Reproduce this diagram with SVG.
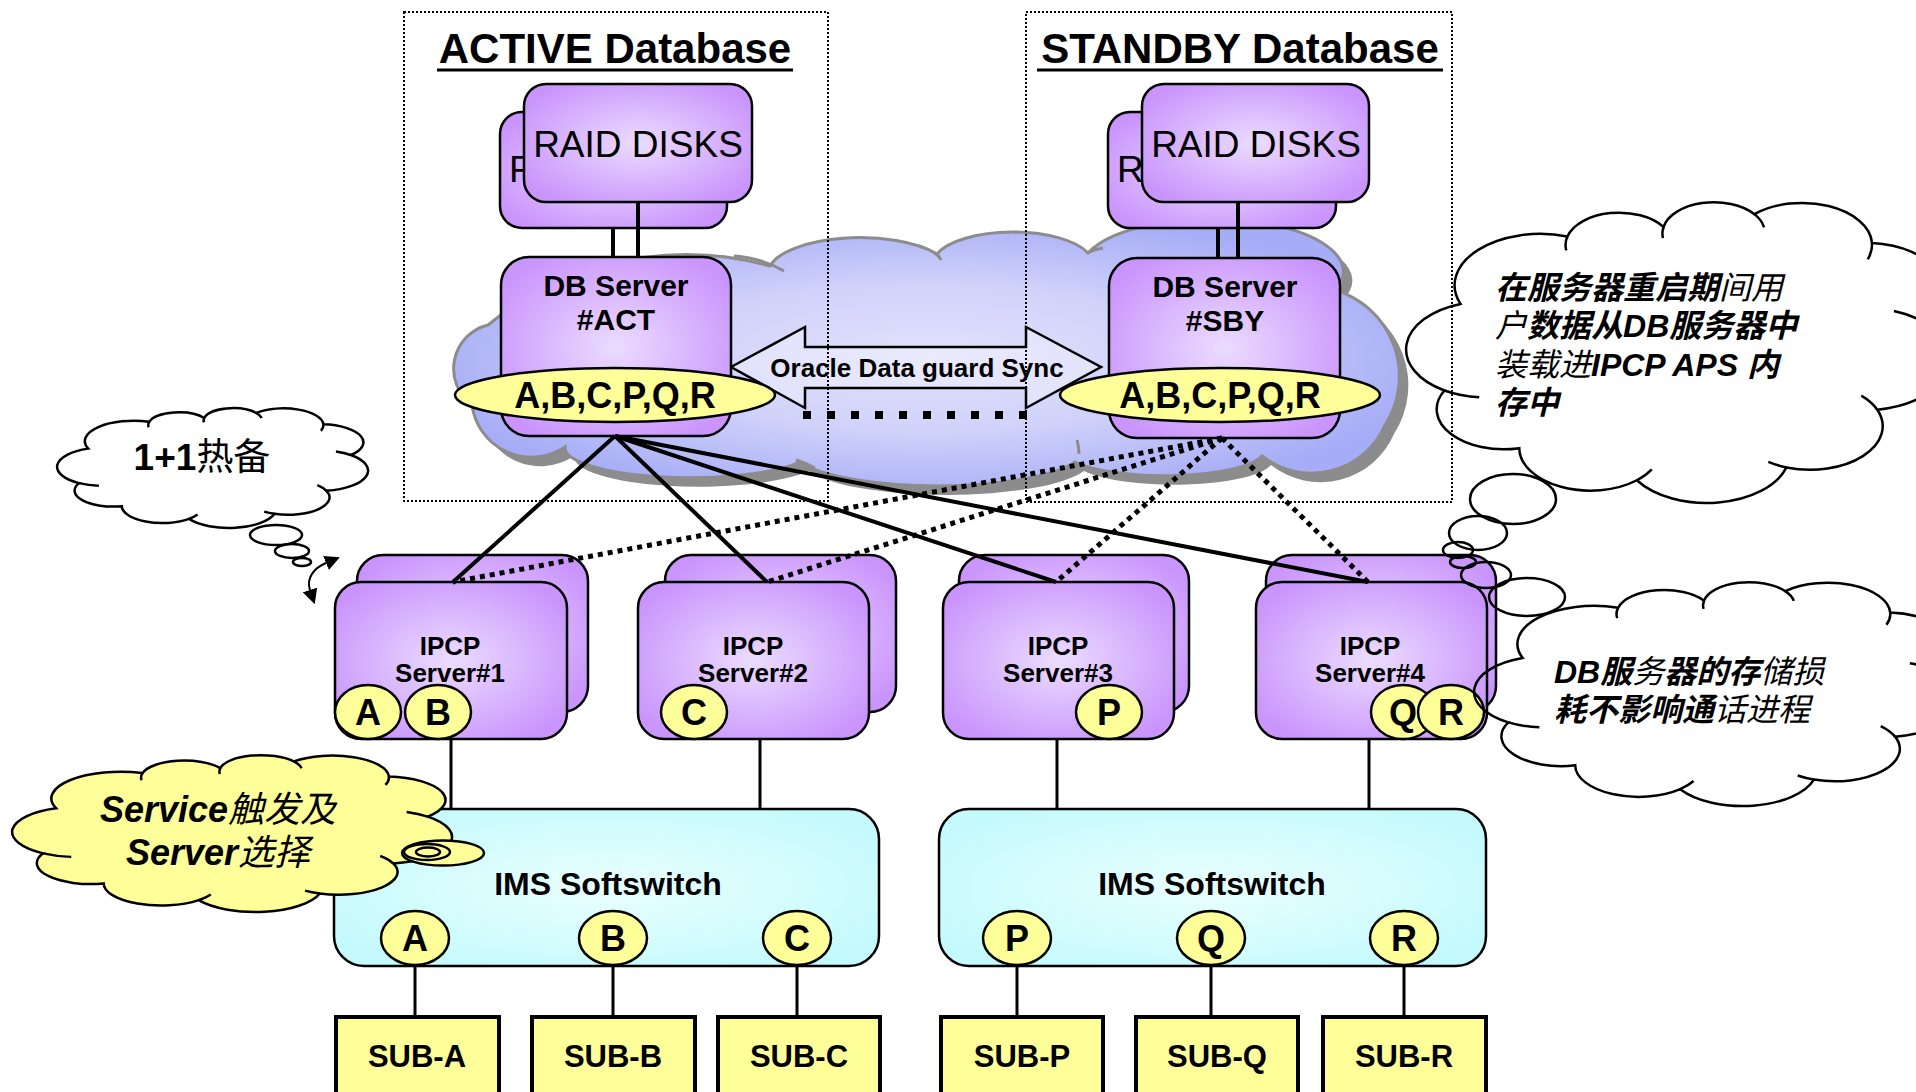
<svg xmlns="http://www.w3.org/2000/svg" xmlns:xlink="http://www.w3.org/1999/xlink" width="1916" height="1092" viewBox="0 0 1916 1092">
<defs>
<style>
.t{font-family:"Liberation Sans","Noto Sans CJK SC",sans-serif;font-weight:bold;fill:#000;text-anchor:middle}
.r{font-family:"Liberation Sans",sans-serif;font-weight:normal;fill:#000}
.it{font-family:"Liberation Sans","Noto Sans CJK SC",sans-serif;font-weight:bold;font-style:italic;fill:#000}
.n{font-weight:normal}
.pb{fill:url(#gP);stroke:#000;stroke-width:2.5}
.yl{fill:#ffff99;stroke:#000;stroke-width:2.5}
.cy{fill:url(#gC);stroke:#000;stroke-width:2.5}
.sub{fill:#ffff99;stroke:#000;stroke-width:4}
.cont{fill:none;stroke:#000;stroke-width:2;stroke-dasharray:2 2}
.ln{stroke:#000;stroke-width:4;fill:none}
.thin{stroke:#000;stroke-width:3;fill:none}
.dl{stroke:#000;stroke-width:5;stroke-dasharray:5 5;fill:none}
.cl{stroke:#000;stroke-width:2.5}
.bub{fill:none;stroke:#000;stroke-width:2.5}
</style>
<radialGradient id="gP" cx="0.5" cy="0.5" r="0.6">
<stop offset="0" stop-color="#ebdcff"/>
<stop offset="1" stop-color="#c994fc"/>
</radialGradient>
<radialGradient id="gC" cx="0.5" cy="0.5" r="0.6">
<stop offset="0" stop-color="#eaffff"/>
<stop offset="1" stop-color="#c4fafc"/>
</radialGradient>
<radialGradient id="gB" cx="0.5" cy="0.52" r="0.55">
<stop offset="0" stop-color="#e2e2fc"/>
<stop offset="0.5" stop-color="#d0d2fa"/>
<stop offset="1" stop-color="#a6acf6"/>
</radialGradient>
<marker id="ah" viewBox="0 0 10 10" refX="0" refY="5" markerUnits="userSpaceOnUse" markerWidth="15" markerHeight="15" orient="auto-start-reverse">
<path d="M0,0 L10,5 L0,10 z" fill="#000"/>
</marker>
<path id="cloudP" vector-effect="non-scaling-stroke" d="M90,350 A160,160 0 0 1 290,140 A100,100 0 0 1 470,110 A96,96 0 0 1 640,70 A131,131 0 0 1 860,160 A141,141 0 0 1 950,400 A160,160 0 0 1 870,680 A136,136 0 0 1 700,860 A156,156 0 0 1 420,900 A133,133 0 0 1 200,800 A125,125 0 0 1 60,620 A150,150 0 0 1 90,350 Z"/>
<path id="cloudH" vector-effect="non-scaling-stroke" fill="none" d="M60,620 A150,150 0 0 0 125,641 M640,70 A96,96 0 0 1 658,111 M860,160 A131,131 0 0 1 852,211 M950,400 A160,160 0 0 0 901,372 M870,680 A136,136 0 0 0 840,636 M700,860 A136,136 0 0 1 666,843 M420,900 A133,133 0 0 0 448,866 M290,140 A100,100 0 0 0 288,183 M470,110 A96,96 0 0 0 469,145"/>
<path id="dbCloud" d="M488,325 A314,314 0 0 1 770,266 A92,36 0 0 1 937,254 A80,32 0 0 1 1088,253 A125,50 0 0 1 1335,290 A90,90 0 0 1 1385,425 A80,80 0 0 1 1262,456 A100,25 0 0 1 1075,462 A145,35 0 0 1 800,462 A125,30 0 0 1 565,447 A60,60 0 0 1 472,405 A45,45 0 0 1 488,325 Z"/>
</defs>

<rect x="0" y="0" width="1916" height="1092" fill="#fff"/>

<g id="db-cloud">
<use xlink:href="#dbCloud" href="#dbCloud" transform="translate(9,9)" fill="#8c8c8c"/>
<use xlink:href="#dbCloud" href="#dbCloud" fill="url(#gB)" stroke="#8c8c8c" stroke-width="3"/>
<path d="M734,256 Q762,258 784,271 M934,253 Q939,255 941,260 M1087,253 Q1095,249 1103,248 M796,460 Q806,463 815,468 M1077,440 Q1079,447 1079,454" fill="none" stroke="#8c8c8c" stroke-width="3"/>
</g>

<g id="sync-arrow">
<path d="M731,367 L805,327 L805,347 L1026,347 L1026,327 L1101,367 L1026,408 L1026,388 L805,388 L805,408 Z" fill="#ffffff" fill-opacity="0.3" stroke="#000" stroke-width="2.5"/>
<text class="t" x="917" y="377" font-size="26">Oracle Data guard Sync</text>
<line x1="803" y1="415" x2="1027" y2="415" stroke="#000" stroke-width="8" stroke-dasharray="8 16"/>
</g>

<g id="active-db">
<rect class="cont" x="404" y="12" width="424" height="489"/>
<text class="t" x="615" y="63" font-size="42">ACTIVE Database</text>
<line x1="437" y1="70" x2="793" y2="70" stroke="#000" stroke-width="3"/>
</g>
<g id="standby-db">
<rect class="cont" x="1026" y="12" width="426" height="490"/>
<text class="t" x="1240" y="63" font-size="42">STANDBY Database</text>
<line x1="1037" y1="70" x2="1443" y2="70" stroke="#000" stroke-width="3"/>
</g>

<g id="raid-act">
<rect class="pb" x="500" y="112" width="227" height="116" rx="22"/>
<text class="r" x="509" y="182" font-size="37">R</text>
<rect class="pb" x="524" y="84" width="228" height="118" rx="22"/>
<text class="r" x="638" y="157" font-size="37" text-anchor="middle">RAID DISKS</text>
</g>
<g id="raid-sby">
<rect class="pb" x="1108" y="112" width="228" height="116" rx="22"/>
<text class="r" x="1117" y="182" font-size="37">R</text>
<rect class="pb" x="1142" y="84" width="227" height="118" rx="22"/>
<text class="r" x="1256" y="157" font-size="37" text-anchor="middle">RAID DISKS</text>
</g>

<g id="db-act">
<rect class="pb" x="501" y="257" width="230" height="179" rx="28"/>
<text class="t" font-size="30"><tspan x="616" y="296">DB Server</tspan><tspan x="616" y="330">#ACT</tspan></text>
<ellipse class="yl" cx="615" cy="395" rx="160" ry="27"/>
<text class="t" x="615" y="408" font-size="36">A,B,C,P,Q,R</text>
</g>
<g id="db-sby">
<rect class="pb" x="1109" y="258" width="231" height="180" rx="28"/>
<text class="t" font-size="30"><tspan x="1225" y="297">DB Server</tspan><tspan x="1225" y="331">#SBY</tspan></text>
<ellipse class="yl" cx="1220" cy="395" rx="160" ry="27"/>
<text class="t" x="1220" y="408" font-size="36">A,B,C,P,Q,R</text>
</g>

<g id="ipcp1">
<rect class="pb" x="357" y="555" width="231" height="157" rx="26"/>
<rect class="pb" x="335" y="582" width="232" height="157" rx="26"/>
<text class="t" font-size="26"><tspan x="450" y="655">IPCP</tspan><tspan x="450" y="682">Server#1</tspan></text>
<ellipse class="yl" cx="368" cy="712" rx="33" ry="27"/>
<text class="t" x="368" y="725" font-size="36">A</text>
<ellipse class="yl" cx="438" cy="712" rx="33" ry="27"/>
<text class="t" x="438" y="725" font-size="36">B</text>
</g>
<g id="ipcp2">
<rect class="pb" x="665" y="555" width="231" height="157" rx="26"/>
<rect class="pb" x="638" y="582" width="231" height="157" rx="26"/>
<text class="t" font-size="26"><tspan x="753" y="655">IPCP</tspan><tspan x="753" y="682">Server#2</tspan></text>
<ellipse class="yl" cx="694" cy="712" rx="33" ry="27"/>
<text class="t" x="694" y="725" font-size="36">C</text>
</g>
<g id="ipcp3">
<rect class="pb" x="959" y="555" width="230" height="157" rx="26"/>
<rect class="pb" x="943" y="582" width="231" height="157" rx="26"/>
<text class="t" font-size="26"><tspan x="1058" y="655">IPCP</tspan><tspan x="1058" y="682">Server#3</tspan></text>
<ellipse class="yl" cx="1109" cy="712" rx="33" ry="27"/>
<text class="t" x="1109" y="725" font-size="36">P</text>
</g>
<g id="ipcp4">
<rect class="pb" x="1266" y="555" width="230" height="157" rx="26"/>
<rect class="pb" x="1256" y="582" width="231" height="157" rx="26"/>
<text class="t" font-size="26"><tspan x="1370" y="655">IPCP</tspan><tspan x="1370" y="682">Server#4</tspan></text>
<ellipse class="yl" cx="1403" cy="712" rx="32" ry="27"/>
<text class="t" x="1403" y="725" font-size="36">Q</text>
<ellipse class="yl" cx="1451" cy="712" rx="33" ry="27"/>
<text class="t" x="1451" y="725" font-size="36">R</text>
</g>

<g id="ims-left">
<rect class="cy" x="334" y="809" width="545" height="157" rx="30"/>
<text class="t" x="608" y="895" font-size="32">IMS Softswitch</text>
<ellipse class="yl" cx="415" cy="938" rx="34" ry="27"/>
<text class="t" x="415" y="951" font-size="36">A</text>
<ellipse class="yl" cx="613" cy="938" rx="34" ry="27"/>
<text class="t" x="613" y="951" font-size="36">B</text>
<ellipse class="yl" cx="797" cy="938" rx="34" ry="27"/>
<text class="t" x="797" y="951" font-size="36">C</text>
</g>
<g id="ims-right">
<rect class="cy" x="939" y="809" width="547" height="157" rx="30"/>
<text class="t" x="1212" y="895" font-size="32">IMS Softswitch</text>
<ellipse class="yl" cx="1017" cy="938" rx="34" ry="27"/>
<text class="t" x="1017" y="951" font-size="36">P</text>
<ellipse class="yl" cx="1211" cy="938" rx="34" ry="27"/>
<text class="t" x="1211" y="951" font-size="36">Q</text>
<ellipse class="yl" cx="1404" cy="938" rx="34" ry="27"/>
<text class="t" x="1404" y="951" font-size="36">R</text>
</g>

<g id="sub-a"><rect class="sub" x="336" y="1017" width="163" height="90"/><text class="t" x="417" y="1067" font-size="31">SUB-A</text></g>
<g id="sub-b"><rect class="sub" x="532" y="1017" width="163" height="90"/><text class="t" x="613" y="1067" font-size="31">SUB-B</text></g>
<g id="sub-c"><rect class="sub" x="718" y="1017" width="162" height="90"/><text class="t" x="799" y="1067" font-size="31">SUB-C</text></g>
<g id="sub-p"><rect class="sub" x="941" y="1017" width="162" height="90"/><text class="t" x="1022" y="1067" font-size="31">SUB-P</text></g>
<g id="sub-q"><rect class="sub" x="1136" y="1017" width="162" height="90"/><text class="t" x="1217" y="1067" font-size="31">SUB-Q</text></g>
<g id="sub-r"><rect class="sub" x="1323" y="1017" width="163" height="90"/><text class="t" x="1404" y="1067" font-size="31">SUB-R</text></g>

<g id="connectors">
<line class="ln" x1="613" y1="228" x2="613" y2="257"/>
<line class="ln" x1="638" y1="202" x2="638" y2="257"/>
<line class="ln" x1="1218" y1="228" x2="1218" y2="258"/>
<line class="ln" x1="1238" y1="202" x2="1238" y2="258"/>
<line class="ln" x1="615" y1="436" x2="453" y2="582"/>
<line class="ln" x1="615" y1="436" x2="767" y2="582"/>
<line class="ln" x1="615" y1="436" x2="1056" y2="582" stroke-width="5"/>
<line class="ln" x1="615" y1="436" x2="1368" y2="582" stroke-width="5"/>
<line class="dl" x1="1222" y1="438" x2="453" y2="582"/>
<line class="dl" x1="1222" y1="438" x2="767" y2="582"/>
<line class="dl" x1="1222" y1="438" x2="1056" y2="582"/>
<line class="dl" x1="1222" y1="438" x2="1368" y2="582"/>
<line class="thin" x1="451" y1="739" x2="451" y2="809"/>
<line class="thin" x1="760" y1="739" x2="760" y2="809"/>
<line class="thin" x1="1057" y1="739" x2="1057" y2="809"/>
<line class="thin" x1="1369" y1="739" x2="1369" y2="809"/>
<line class="thin" x1="415" y1="965" x2="415" y2="1017"/>
<line class="thin" x1="613" y1="965" x2="613" y2="1017"/>
<line class="thin" x1="797" y1="965" x2="797" y2="1017"/>
<line class="thin" x1="1017" y1="965" x2="1017" y2="1017"/>
<line class="thin" x1="1211" y1="965" x2="1211" y2="1017"/>
<line class="thin" x1="1404" y1="965" x2="1404" y2="1017"/>
<path d="M326,563 C314,568 306,578 310,590" fill="none" stroke="#000" stroke-width="2" marker-start="url(#ah)" marker-end="url(#ah)"/>
</g>

<g id="note-hot-standby">
<g transform="matrix(0.3055 0 0 0.1278 60.7 403.9)">
<use xlink:href="#cloudP" href="#cloudP" class="cl" fill="#fff"/>
<use xlink:href="#cloudH" href="#cloudH" class="cl"/>
</g>
<ellipse class="bub" cx="276" cy="535" rx="26" ry="10"/>
<ellipse class="bub" cx="292" cy="551" rx="17" ry="7"/>
<ellipse class="bub" cx="302" cy="562" rx="9" ry="4"/>
<text class="t" x="202" y="470" font-size="37">1+1<tspan class="n">热备</tspan></text>
</g>

<g id="note-reload">
<g transform="matrix(0.5344 0 0 0.3206 1412.4 191.7)">
<use xlink:href="#cloudP" href="#cloudP" class="cl" fill="none"/>
<use xlink:href="#cloudH" href="#cloudH" class="cl"/>
</g>
<ellipse class="bub" cx="1513" cy="499" rx="43" ry="25"/>
<ellipse class="bub" cx="1478" cy="533" rx="29" ry="17"/>
<ellipse class="bub" cx="1458" cy="550" rx="15" ry="8"/>
<text class="it" font-size="32"><tspan x="1495" y="299">在服务器重启期<tspan class="n">间用</tspan></tspan><tspan x="1495" y="337"><tspan class="n">户</tspan>数据从DB服务器中</tspan><tspan x="1495" y="376"><tspan class="n">装载进</tspan>IPCP APS 内</tspan><tspan x="1495" y="414">存中</tspan></text>
</g>

<g id="note-storage">
<g transform="matrix(0.4774 0 0 0.2386 1479.7 574.4)">
<use xlink:href="#cloudP" href="#cloudP" class="cl" fill="none"/>
<use xlink:href="#cloudH" href="#cloudH" class="cl"/>
</g>
<ellipse class="bub" cx="1463" cy="562" rx="13" ry="6"/>
<ellipse class="bub" cx="1486" cy="575" rx="25" ry="13"/>
<ellipse class="bub" cx="1527" cy="597" rx="38" ry="19"/>
<text class="it" font-size="32"><tspan x="1554" y="683">DB服<tspan class="n">务</tspan>器的存<tspan class="n">储损</tspan></tspan><tspan x="1554" y="721">耗不影响通<tspan class="n">话进程</tspan></tspan></text>
</g>

<g id="note-service">
<g transform="matrix(0.4322 0 0 0.1672 17.2 749.7)">
<use xlink:href="#cloudP" href="#cloudP" class="cl" fill="#ffff99"/>
<use xlink:href="#cloudH" href="#cloudH" class="cl"/>
</g>
<ellipse class="yl" cx="443" cy="853" rx="41" ry="12.5"/>
<ellipse class="yl" cx="427" cy="852" rx="23" ry="8"/>
<ellipse class="yl" cx="428" cy="852" rx="12" ry="4.5"/>
<text class="it" font-size="36" text-anchor="middle"><tspan x="218" y="822">Service<tspan class="n">触发及</tspan></tspan><tspan x="218" y="865">Server<tspan class="n">选择</tspan></tspan></text>
</g>
</svg>
